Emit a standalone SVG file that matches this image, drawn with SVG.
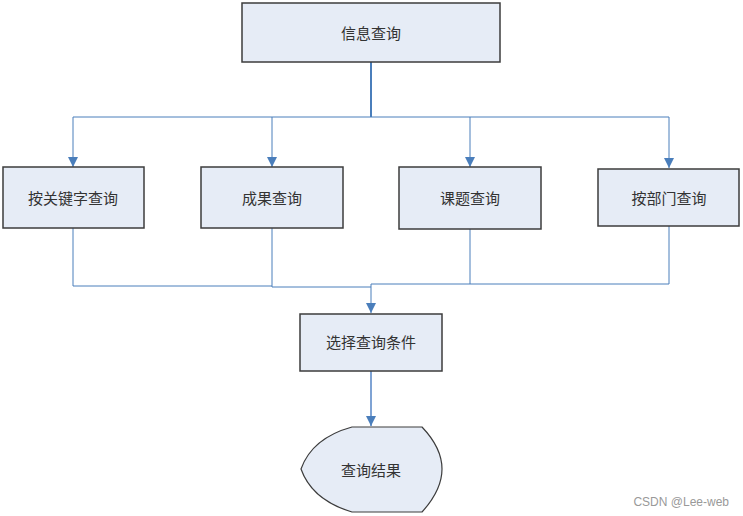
<svg xmlns="http://www.w3.org/2000/svg" width="743" height="516" viewBox="0 0 743 516">
<defs>
<style>
.box{fill:#e6ecf6;stroke:#3c3c3c;stroke-width:1.5}
.lbl{font-family:"Noto Sans CJK SC","Noto Sans",sans-serif;font-size:15px;fill:#333;text-anchor:middle;dominant-baseline:central}
.ln{fill:none;stroke:#4a7ebb;stroke-width:1}
.lnb{fill:none;stroke:#4a7ebb;stroke-width:2}
</style>
<marker id="ah" markerWidth="10" markerHeight="10" refX="10" refY="5" orient="auto" markerUnits="userSpaceOnUse" viewBox="0 0 10 10">
<path d="M0,0 L10,5 L0,10 Z" fill="#4a7ebb"/>
</marker>
</defs>
<rect width="743" height="516" fill="#fff"/>
<g id="connectors">
<path class="lnb" d="M371,62 V117"/>
<path class="ln" d="M73,117 H669"/>
<path class="ln" d="M73,117 V167" marker-end="url(#ah)"/>
<path class="ln" d="M272,117 V167" marker-end="url(#ah)"/>
<path class="ln" d="M470,117 V167" marker-end="url(#ah)"/>
<path class="ln" d="M669,117 V168" marker-end="url(#ah)"/>
<path class="ln" d="M73,228 V286 H272"/>
<path class="ln" d="M272,228 V287 H371"/>
<path class="ln" d="M470,229 V284 H371"/>
<path class="ln" d="M669,226 V284 H470"/>
<path class="ln" d="M371,284 V313" marker-end="url(#ah)"/>
<path class="lnb" d="M371,371 V426" marker-end="url(#ah)" style="stroke:#7fa3d4"/>
</g>
<g id="n-info"><rect class="box" x="242" y="3" width="258" height="59"/><text class="lbl" x="371" y="32">信息查询</text></g>
<g id="n-keyword"><rect class="box" x="3" y="167" width="141" height="61"/><text class="lbl" x="73" y="197">按关键字查询</text></g>
<g id="n-result"><rect class="box" x="201" y="167" width="142" height="61"/><text class="lbl" x="272" y="197">成果查询</text></g>
<g id="n-topic"><rect class="box" x="399" y="167" width="142" height="62"/><text class="lbl" x="470" y="197">课题查询</text></g>
<g id="n-dept"><rect class="box" x="598" y="169" width="141" height="57"/><text class="lbl" x="669" y="197">按部门查询</text></g>
<g id="n-select"><rect class="box" x="300" y="314" width="142" height="57"/><text class="lbl" x="371" y="341">选择查询条件</text></g>
<g id="n-out"><path class="box" style="stroke-width:1.2" d="M352,427 H422 Q442,448 442,469 Q442,490 422,512 H352 Q312,500 301,469 Q312,438 352,427 Z"/><text class="lbl" x="371" y="469">查询结果</text></g>
<text x="729" y="502" font-family="'Liberation Sans',Arial,sans-serif" font-size="12" fill="#999" text-anchor="end" dominant-baseline="central">CSDN @Lee-web</text>
</svg>
